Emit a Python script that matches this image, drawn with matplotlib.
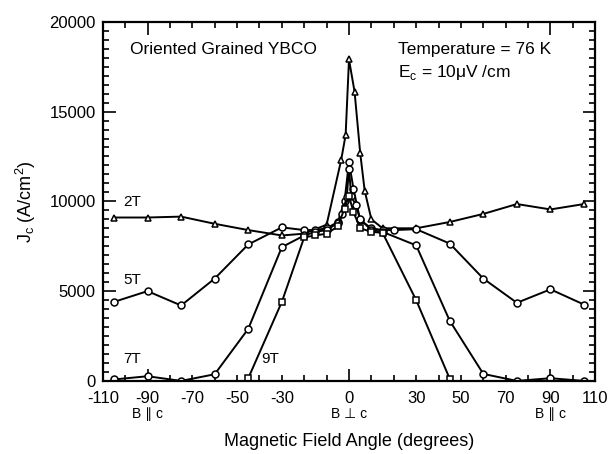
import matplotlib
matplotlib.use("Agg")
import matplotlib.pyplot as plt
from matplotlib.ticker import MultipleLocator, FixedLocator, FuncFormatter
import matplotlib.transforms as mtransforms

plt.rcParams['font.family'] = ['Liberation Sans', 'DejaVu Sans']
plt.rcParams['axes.unicode_minus'] = False

# Jc vs magnetic field angle
angle_2t = [-105, -90, -75, -60, -45, -30, -20, -10, -3.5, -1.5, 0, 2.5, 5, 7, 10, 15, 30, 45, 60, 75, 90, 105]
jc_2t = [9100, 9100, 9150, 8750, 8400, 8100, 8200, 8700, 12300, 13700, 17900, 16100, 12700, 10600, 9000, 8500,
         8500, 8850, 9300, 9850, 9550, 9850]

angle_5t = [-105, -90, -75, -60, -45, -30, -20, -15, -10, -5, -2, 0, 2, 5, 10, 15, 20, 30, 45, 60, 75, 90, 105]
jc_5t = [4400, 5000, 4200, 5700, 7600, 8550, 8400, 8400, 8500, 8850, 10000, 12200, 10700, 8950, 8500, 8400,
         8400, 8450, 7650, 5700, 4350, 5100, 4250]

angle_7t = [-105, -90, -75, -60, -45, -30, -20, -15, -10, -5, -3, -1, 0, 1, 3, 5, 10, 15, 30, 45, 60, 75, 90, 105]
jc_7t = [80, 260, 0, 370, 2900, 7450, 8100, 8300, 8400, 8800, 9300, 10250, 11800, 10300, 9800, 9000, 8400,
         8300, 7550, 3350, 390, 0, 150, 0]

angle_9t = [-45, -30, -20, -15, -10, -5, -2, 0, 2, 5, 10, 15, 30, 45]
jc_9t = [150, 4400, 8000, 8100, 8200, 8600, 9600, 10300, 9400, 8500, 8300, 8250, 4500, 120]

series = [
    ('2T', angle_2t, jc_2t, '^', (-97, 9950)),
    ('5T', angle_5t, jc_5t, 'o', (-97, 5600)),
    ('7T', angle_7t, jc_7t, 'o', (-97, 1200)),
    ('9T', angle_9t, jc_9t, 's', (-35, 1200)),
]

x_major = [-90, 0, 90]
x_labelled = [-110, -90, -70, -50, -30, 0, 30, 50, 70, 90, 110]
orient_labels = [(-90, 'B ∥ c'), (0, 'B ⊥ c'), (90, 'B ∥ c')]

fig = plt.figure(figsize=(6.08, 4.54), dpi=100)
ax = fig.add_axes([0.169, 0.161, 0.810, 0.791])

for name, xs, ys, marker, (tx, ty) in series:
    ax.plot(xs, ys, color='black', linewidth=1.4, marker=marker, markersize=5,
            markerfacecolor='white', markeredgecolor='black', markeredgewidth=1.1)
    ax.text(tx, ty, name, fontsize=11, ha='center', va='center')

ax.set_xlim(-110, 110)
ax.set_ylim(0, 20000)

# x ticks: tall at -90/0/90, short every 10 degrees
ax.xaxis.set_major_locator(FixedLocator(x_major))
ax.xaxis.set_minor_locator(MultipleLocator(10))
fmt = FuncFormatter(lambda v, p: f'{v:g}' if round(v) in x_labelled else '')
ax.xaxis.set_major_formatter(fmt)
ax.xaxis.set_minor_formatter(fmt)

ax.yaxis.set_major_locator(MultipleLocator(5000))
ax.yaxis.set_minor_locator(MultipleLocator(500))

ax.tick_params(which='both', direction='in', top=True, right=True, width=1.2, labelsize=12)
ax.tick_params(which='major', length=9)
ax.tick_params(which='minor', length=4, labelbottom=True)
ax.tick_params(axis='x', which='both', pad=7)
ax.tick_params(axis='y', which='both', pad=5)

for s in ax.spines.values():
    s.set_linewidth(1.6)

trans = mtransforms.blended_transform_factory(ax.transData, ax.transAxes)
for xv, lab in orient_labels:
    ax.text(xv, -0.072, lab, transform=trans, ha='center', va='top', fontsize=10)

ax.set_xlabel('Magnetic Field Angle (degrees)', fontsize=13, labelpad=20)
ax.set_ylabel(r'J$_\mathregular{c}$ (A/cm$^\mathregular{2}$)', fontsize=13, labelpad=8)

ax.text(-98, 18450, 'Oriented Grained YBCO', fontsize=12.5, ha='left', va='center')
ax.text(22, 18450, 'Temperature = 76 K', fontsize=12.5, ha='left', va='center')
ax.text(22, 17150, r'E$_\mathregular{c}$ = 10$\mathregular{\mu}$V /cm', fontsize=12.5, ha='left', va='center')

fig.savefig('out.png', dpi=100)
